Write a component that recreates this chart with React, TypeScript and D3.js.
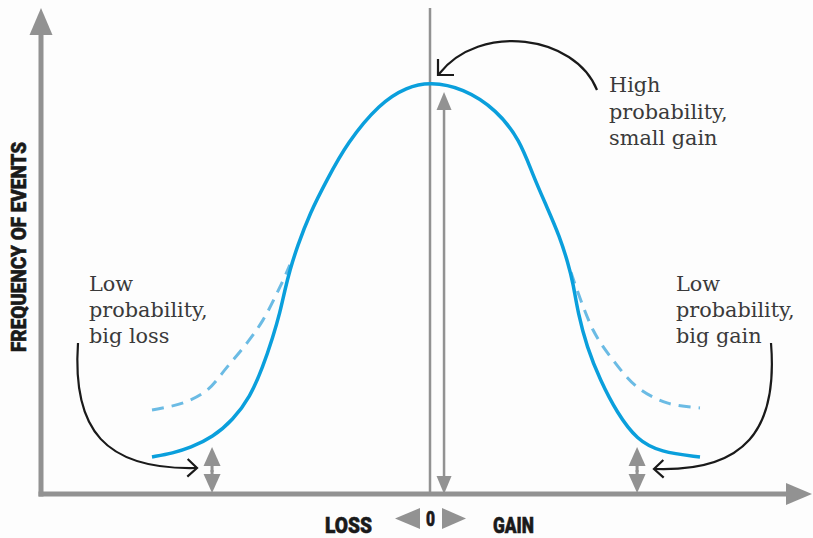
import React from "react";
import * as d3 from "d3";

// ---- data (outcome units: -10 = big loss, 0 = no change, 10 = big gain; frequency 0..100)
const solidOutcome = [-10, -9.24, -8.63, -7.81, -7.09, -6.47, -6.01, -5.65, -5.4, -5.22, -5.04, -4.78, -4.32, -3.71, -2.99, -1.8, -0.83, 0, 1.22, 2.48, 3.33, 3.81, 4.33, 4.81, 5.11, 5.3, 5.48, 5.81, 6.3, 6.93, 7.67, 8.52, 10];
const solidFreq = [8.98, 9.95, 11.17, 13.83, 17.96, 23.54, 30.83, 38.11, 43.93, 49.51, 54.37, 59.95, 68.2, 76.21, 85.19, 94.9, 98.79, 100, 98.54, 93.2, 85.92, 77.4, 69.66, 62.38, 56.07, 51.21, 43.93, 35.68, 27.67, 19.66, 13.11, 10.19, 8.98];
const fatLeftOutcome = [-10, -8.88, -8.02, -7.3, -6.58, -6.01, -5.4, -5.04];
const fatLeftFreq = [20.4, 22.1, 25.2, 30.8, 36.7, 42.2, 50.2, 55.6];
const fatRightOutcome = [5.22, 6.04, 6.78, 7.67, 8.78, 10];
const fatRightFreq = [53.8, 39.8, 32.5, 26.0, 22.1, 20.9];

const yAxisLabel = "FREQUENCY OF EVENTS";
const lossLabel = "LOSS";
const gainLabel = "GAIN";
const zeroLabel = "0";
const topNote = ["High", "probability,", "small gain"];
const leftNote = ["Low", "probability,", "big loss"];
const rightNote = ["Low", "probability,", "big gain"];

const W = 813;
const H = 538;
const GRAY = "#929292";
const BLUE = "#0a9fdc";
const LIGHTBLUE = "#6bbbe4";
const INK = "#1a1a1a";
const TEXT = "#3a3a3a";
const BG = "#fdfdfd";

export default function App() {
  const x = d3.scaleLinear().domain([-10, 0, 10]).range([152, 430, 700]);
  const y = d3.scaleLinear().domain([0, 100]).range([494, 82]);

  const smoothLine = d3
    .line<[number, number]>()
    .x((d) => x(d[0]))
    .y((d) => y(d[1]))
    .curve(d3.curveBasis);
  const line = d3
    .line<[number, number]>()
    .x((d) => x(d[0]))
    .y((d) => y(d[1]))
    .curve(d3.curveCatmullRom.alpha(0.5));

  const solid = smoothLine(solidOutcome.map((o, i) => [o, solidFreq[i]]))!;
  const fatL = line(fatLeftOutcome.map((o, i) => [o, fatLeftFreq[i]]))!;
  const fatR = line(fatRightOutcome.map((o, i) => [o, fatRightFreq[i]]))!;

  const x0 = 41; // y axis position
  const yBase = y(0);
  const xEnd = 812;

  const tri = (pts: [number, number][]) => pts.map((p) => p.join(",")).join(" ");

  const dblArrow = (cx: number, yTop: number, yBot: number, hw: number, hh: number, w: number, key: string) => (
    <g key={key}>
      <line x1={cx} x2={cx} y1={yTop + hh - 2} y2={yBot - hh + 2} stroke={GRAY} strokeWidth={w} />
      <polygon points={tri([[cx, yTop], [cx - hw, yTop + hh], [cx + hw, yTop + hh]])} fill={GRAY} />
      <polygon points={tri([[cx, yBot], [cx - hw, yBot - hh], [cx + hw, yBot - hh]])} fill={GRAY} />
    </g>
  );

  const chevron = (tx: number, ty: number, ang: number, len: number, spread: number) => {
    const a1 = ang + Math.PI - spread;
    const a2 = ang + Math.PI + spread;
    return `M${tx + len * Math.cos(a1)},${ty + len * Math.sin(a1)} L${tx},${ty} L${tx + len * Math.cos(a2)},${ty + len * Math.sin(a2)}`;
  };

  const noteStyle: React.CSSProperties = {
    fontFamily: "'DejaVu Serif', serif",
    fontSize: 20.8,
    fill: TEXT,
  };
  const boldStyle: React.CSSProperties = {
    fontFamily: "Roboto, 'DejaVu Sans', sans-serif",
    fontWeight: 900,
    fill: INK,
    stroke: INK,
    strokeWidth: 0.6,
  };

  const peakX = x(0);

  const smallL = x(-7.84);
  const smallR = x(7.67);
  const smallTop = y(11.4);

  return (
    <svg width={W} height={H} style={{ position: "absolute", left: 0, top: 0, background: "#fff" }}>
      <rect width={W} height={H} fill={BG} />
      <line x1={peakX} x2={peakX} y1={8} y2={yBase} stroke={GRAY} strokeWidth={2.5} />

      <line x1={x0} x2={x0} y1={30} y2={yBase + 2.5} stroke={GRAY} strokeWidth={5} />
      <polygon points={tri([[x0, 8], [x0 - 11.5, 35], [x0 + 11.5, 35]])} fill={GRAY} />
      <line x1={x0 - 2.5} x2={xEnd - 22} y1={yBase} y2={yBase} stroke={GRAY} strokeWidth={5} />
      <polygon points={tri([[xEnd, yBase], [xEnd - 26, yBase - 11], [xEnd - 26, yBase + 11]])} fill={GRAY} />

      {dblArrow(x(0.52), y(97.6), yBase, 7.5, 18, 2.5, "peak")}
      {dblArrow(smallL, smallTop, yBase - 1, 8.5, 19, 3, "lt")}
      {dblArrow(smallR, smallTop, yBase - 1, 8.5, 19, 3, "rt")}
      <rect x={smallL - 8.5} y={smallTop + 19} width={17} height={4} fill={BG} />
      <rect x={smallR - 8.5} y={smallTop + 19} width={17} height={4} fill={BG} />
      <line x1={smallL} x2={smallL} y1={smallTop + 17} y2={smallTop + 25} stroke={GRAY} strokeWidth={3} />
      <line x1={smallR} x2={smallR} y1={smallTop + 17} y2={smallTop + 25} stroke={GRAY} strokeWidth={3} />

      <path d={fatL} fill="none" stroke={LIGHTBLUE} strokeWidth={3} strokeDasharray="12 8" />
      <path d={fatR} fill="none" stroke={LIGHTBLUE} strokeWidth={3} strokeDasharray="12 8" />
      <path d={solid} fill="none" stroke={BLUE} strokeWidth={3.5} />

      <path d="M597,90 C575,35 480,22 439,74" fill="none" stroke={INK} strokeWidth={2.2} />
      <path d={chevron(438, 75, Math.atan2(1, -1), 16, 0.785)} fill="none" stroke={INK} strokeWidth={2.2} />

      <path d="M78,343 C72,430 105,470 196,468" fill="none" stroke={INK} strokeWidth={2.2} />
      <path d={chevron(197, 468, 0.02, 13, 0.75)} fill="none" stroke={INK} strokeWidth={2.2} />

      <path d="M771,343 C778,430 745,472 655,469" fill="none" stroke={INK} strokeWidth={2.2} />
      <path d={chevron(654, 469, Math.PI - 0.02, 13, 0.75)} fill="none" stroke={INK} strokeWidth={2.2} />

      <text style={noteStyle}>
        {topNote.map((t, i) => (
          <tspan key={i} x={609} y={92 + i * 26.5}>{t}</tspan>
        ))}
      </text>
      <text style={noteStyle}>
        {leftNote.map((t, i) => (
          <tspan key={i} x={89} y={291 + i * 26}>{t}</tspan>
        ))}
      </text>
      <text style={noteStyle}>
        {rightNote.map((t, i) => (
          <tspan key={i} x={676} y={291 + i * 26}>{t}</tspan>
        ))}
      </text>

      <text
        transform={`translate(25.5,247) rotate(-90)`}
        textAnchor="middle"
        style={{ ...boldStyle, fontSize: 21 }}
        textLength={210}
        lengthAdjust="spacingAndGlyphs"
      >
        {yAxisLabel}
      </text>
      <text x={325} y={533} style={{ ...boldStyle, fontSize: 22.5 }} textLength={47} lengthAdjust="spacingAndGlyphs">
        {lossLabel}
      </text>
      <text x={493} y={533} style={{ ...boldStyle, fontSize: 22.5 }} textLength={41} lengthAdjust="spacingAndGlyphs">
        {gainLabel}
      </text>
      <text x={430.5} y={525.5} textAnchor="middle" style={{ ...boldStyle, fontSize: 20 }} textLength={9} lengthAdjust="spacingAndGlyphs">
        {zeroLabel}
      </text>
      <polygon points={tri([[395, 518.5], [420, 508], [420, 529]])} fill={GRAY} />
      <polygon points={tri([[466, 518.5], [442, 508], [442, 529]])} fill={GRAY} />
    </svg>
  );
}
